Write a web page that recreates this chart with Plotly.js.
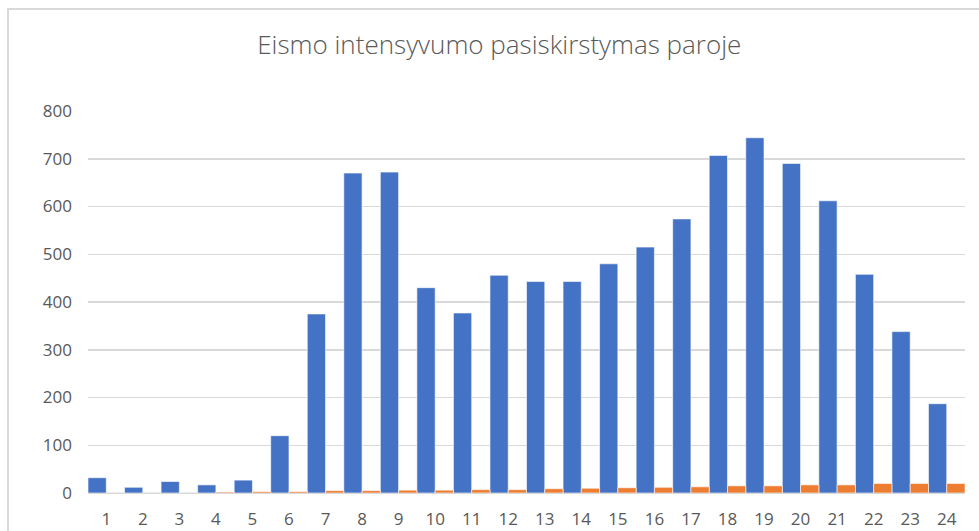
<!DOCTYPE html>
<html>
<head>
<meta charset="utf-8">
<script src="https://cdn.plot.ly/plotly-3.0.1.min.js"></script>
<style>
  html, body { margin: 0; padding: 0; background: #ffffff; }
  #wrap { position: relative; width: 979px; height: 531px; overflow: hidden; }
  #frame { position: absolute; left: 7px; top: 8px; width: 1000px; height: 600px;
           border-left: 2px solid #d9d9d9; border-top: 2px solid #d9d9d9; }
  #chart { position: absolute; left: 0; top: 0; width: 979px; height: 531px; }
</style>
</head>
<body>
<div id="wrap">
  <div id="frame"></div>
  <div id="chart"></div>
</div>
<script>
const hours = ["1","2","3","4","5","6","7","8","9","10","11","12","13","14","15","16","17","18","19","20","21","22","23","24"];
const seriesA = [32, 12, 24, 17, 27, 120, 375, 670, 672, 430, 377, 456, 443, 443, 480, 515, 574, 707, 744, 690, 612, 458, 338, 187];
const seriesB = [0, 0, 0, 2, 3, 3, 5, 5, 6, 6, 7, 7, 9, 10, 11, 12, 13, 15, 15, 17, 17, 20, 20, 20];
const yTicks = [0, 100, 200, 300, 400, 500, 600, 700, 800];
const chartTitle = "Eismo intensyvumo pasiskirstymas paroje";

const traces = [
  { type: "bar", x: hours, y: seriesA, name: "A",
    marker: { color: "#4472C4", line: { color: "rgba(255,255,255,0.6)", width: 1 } } },
  { type: "bar", x: hours, y: seriesB, name: "B",
    marker: { color: "#ED7D31", line: { color: "rgba(255,255,255,0.6)", width: 1 } } }
];

const layout = {
  width: 979, height: 531,
  paper_bgcolor: "rgba(0,0,0,0)",
  plot_bgcolor: "rgba(0,0,0,0)",
  margin: { l: 88, r: 14, t: 111, b: 38 },
  showlegend: false,
  barmode: "group",
  bargap: 0,
  bargroupgap: 0,
  title: {
    text: chartTitle,
    x: 0.51, xanchor: "center",
    y: 0.915, yanchor: "middle",
    font: { family: "Open Sans, Segoe UI, sans-serif", size: 26, color: "#595959", weight: 300 }
  },
  font: { family: "Open Sans, Segoe UI, sans-serif", color: "#595959" },
  xaxis: {
    type: "category",
    tickfont: { size: 17, color: "#595959" },
    showgrid: false,
    showline: false,
    zeroline: false,
    ticks: "",
    ticklabelstandoff: 14
  },
  yaxis: {
    range: [0, 800],
    tickvals: yTicks,
    ticktext: yTicks.map(String),
    tickfont: { size: 17, color: "#595959" },
    showgrid: true,
    gridcolor: "#d9d9d9",
    gridwidth: 1.5,
    zeroline: true,
    zerolinecolor: "#d9d9d9",
    zerolinewidth: 2,
    ticks: "",
    ticklabelstandoff: 15
  }
};

Plotly.newPlot("chart", traces, layout, { displayModeBar: false, staticPlot: true });
</script>
</body>
</html>
